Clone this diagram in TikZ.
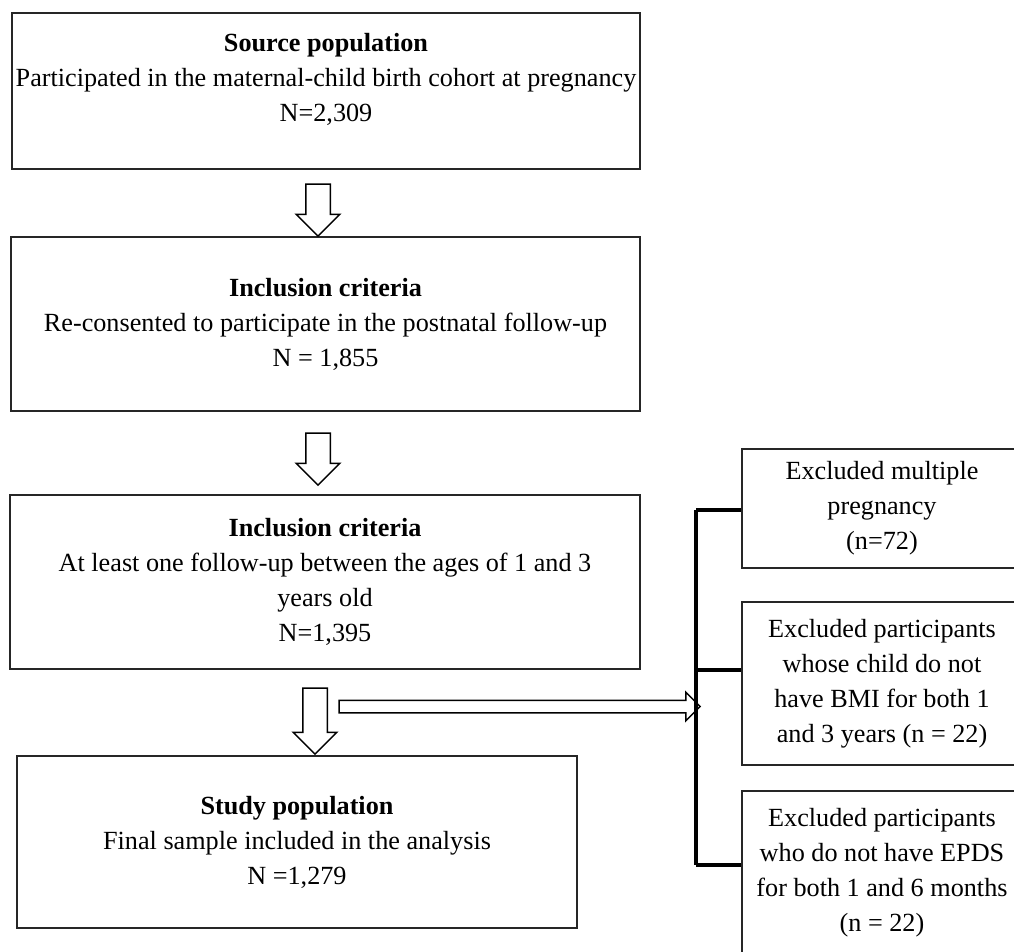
\documentclass[tikz,border=0pt]{standalone}
\usepackage{fontspec}
\setmainfont{Liberation Serif}
\usetikzlibrary{shapes.arrows}

\tikzset{
  flowbox/.style={draw=black!85, line width=1.6pt, align=center, inner sep=0pt},
  exclbox/.style={flowbox, minimum width=280pt},
  downarrow/.style={single arrow, draw, line width=1.5pt, rotate=-90, inner sep=11.5pt,
    single arrow head extend=9.5pt, minimum height=52pt},
  sidearrow/.style={single arrow, draw, line width=1.5pt, inner sep=5.5pt,
    single arrow head extend=8pt, minimum height=361pt},
  bracketline/.style={line width=3.5pt},
}

\begin{document}
\begin{tikzpicture}[x=1pt, y=-1pt, font=\fontsize{26.2}{35}\selectfont]
\useasboundingbox (0,0) rectangle (1014,951);
\begin{scope}
\clip (0,0) rectangle (1014,951);
% main column
\node[flowbox, minimum width=628pt, minimum height=156pt] (source) at (326,91)
  {\textbf{Source population}\\Participated in the maternal-child birth cohort at pregnancy\\N=2,309\\[-8pt] \mbox{}};
\node[flowbox, minimum width=629pt, minimum height=174pt] (consent) at (325.5,324)
  {\textbf{Inclusion criteria}\\Re-consented to participate in the postnatal follow-up\\N = 1,855};
\node[flowbox, minimum width=630pt, minimum height=174pt] (followup) at (325,582)
  {\textbf{Inclusion criteria}\\At least one follow-up between the ages of 1 and 3\\years old\\N=1,395};
\node[flowbox, minimum width=560pt, minimum height=172pt] (study) at (297,842)
  {\textbf{Study population}\\Final sample included in the analysis\\N =1,279};

% block arrows
\node[downarrow] (arr1) at (318,204) {};
\node[downarrow] (arr2) at (318,453) {};
\node[downarrow, minimum height=66pt] (arr3) at (315,715) {};
\node[sidearrow] (exarr) at (516.5,706.5) {};

% exclusions
\node[exclbox, minimum height=119pt] (multi) at (882,508.5)
  {Excluded multiple\\pregnancy\\(n=72)};
\node[exclbox, minimum height=163pt] (nobmi) at (882,683.5)
  {Excluded participants\\whose child do not\\have BMI for both 1\\and 3 years (n = 22)};
\node[exclbox, minimum height=164pt] (noepds) at (882,873)
  {Excluded participants\\who do not have EPDS\\for both 1 and 6 months\\(n = 22)};

% bracket
\coordinate (btop) at (696,510);
\coordinate (bmid) at (696,670);
\coordinate (bbot) at (696,865);
\draw[bracketline] (btop) -- (bbot);
\draw[bracketline] (btop) -- (btop -| multi.west);
\draw[bracketline] (bmid) -- (bmid -| nobmi.west);
\draw[bracketline] (bbot) -- (bbot -| noepds.west);
\end{scope}
\end{tikzpicture}
\end{document}
